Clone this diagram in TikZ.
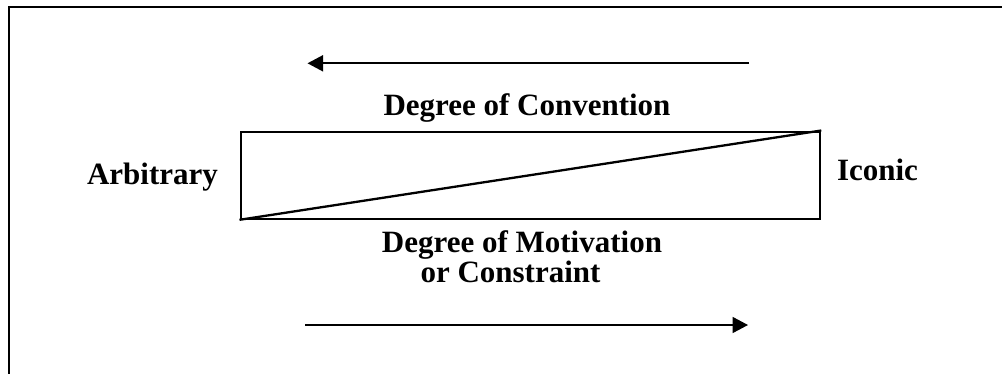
\documentclass[tikz,border=0pt]{standalone}
\usepackage{fontspec}
\setmainfont{Liberation Serif}
\usetikzlibrary{arrows.meta}
\begin{document}
\begin{tikzpicture}[x=1pt,y=-1pt,
  lbl/.style={font=\fontsize{31}{29.5}\selectfont\bfseries, inner sep=0pt, anchor=base},
  arr/.style={line width=1.8pt, -{Triangle[length=15.5pt,width=16pt]}},
  frameline/.style={line width=2pt},
  boxline/.style={line width=2.3pt}]
\useasboundingbox (0,0) rectangle (1002,373);
% outer frame (only top and left edges visible)
\coordinate (fbl) at (8.5,380);
\coordinate (ftl) at (8.5,7);
\coordinate (ftr) at (1010,7);
\draw[frameline] (fbl) -- (ftl) -- (ftr);
% central box
\node[boxline, draw, minimum width=579.5pt, minimum height=87pt, inner sep=0pt, anchor=north west] (box) at (239.5,130.5) {};
\draw[boxline] (box.south west) -- (box.north east);
% labels
\node[lbl] (conv) at (527,115) {Degree of Convention};
\node[lbl] (arb) at (152.5,184) {Arbitrary};
\node[lbl] (icon) at (877.5,180.5) {Iconic};
\node[lbl] (mot) at (522,252.5) {Degree of Motivation};
\node[lbl] (cons) at (510.5,282) {or Constraint};
% arrows
\coordinate (a1s) at (749,63.3);
\coordinate (a1e) at (307.5,63.3);
\coordinate (a2s) at (305,325);
\coordinate (a2e) at (748,325);
\draw[arr] (a1s) -- (a1e);
\draw[arr] (a2s) -- (a2e);
\end{tikzpicture}
\end{document}
